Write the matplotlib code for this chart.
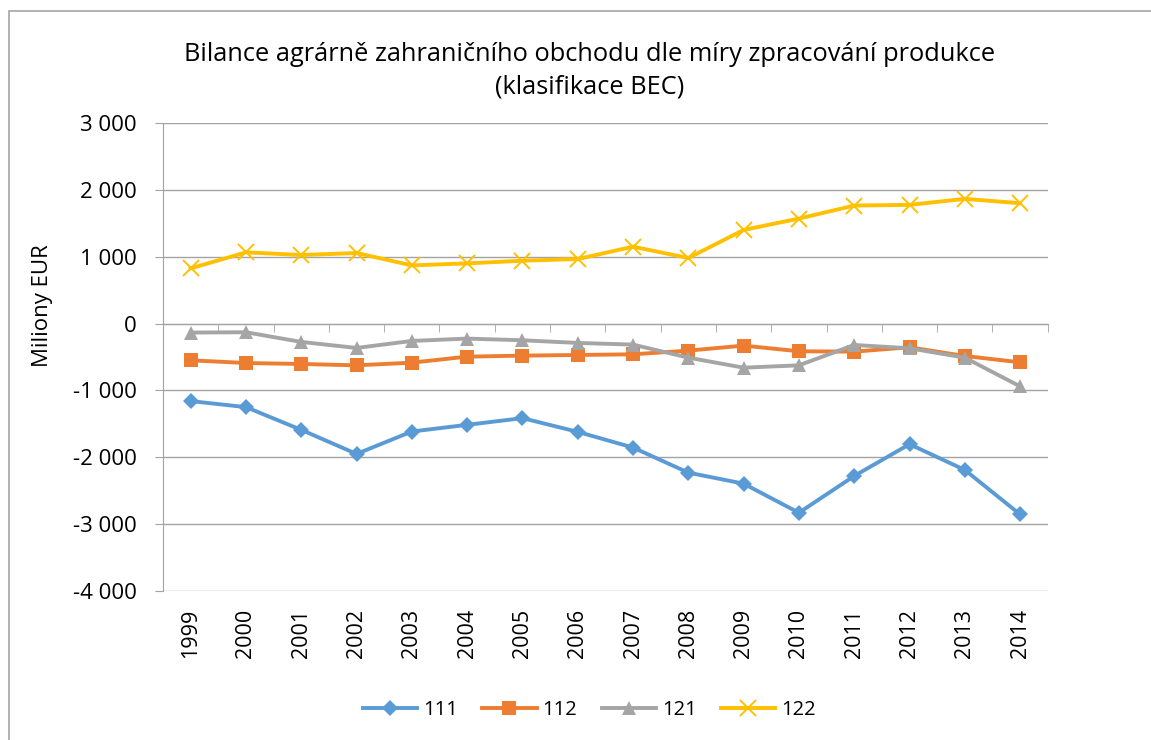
import numpy as np
import matplotlib
matplotlib.use("Agg")
import matplotlib.pyplot as plt
from matplotlib.patches import Rectangle
from matplotlib.ticker import FuncFormatter, FixedLocator

years = [str(y) for y in range(1999, 2015)]
s111 = [-1160, -1250, -1590, -1950, -1615, -1515, -1415, -1620,
        -1855, -2230, -2395, -2830, -2280, -1805, -2190, -2855]
s112 = [-550, -590, -605, -625, -585, -495, -480, -470,
        -460, -405, -330, -415, -420, -355, -485, -580]
s121 = [-135, -130, -275, -365, -260, -225, -250, -290,
        -315, -510, -660, -625, -320, -370, -510, -940]
s122 = [825, 1065, 1025, 1055, 870, 900, 940, 965,
        1150, 980, 1400, 1570, 1765, 1775, 1865, 1800]

series = [
    ("111", s111, "#5B9BD5", "D", 8.5),
    ("112", s112, "#ED7D31", "s", 9.5),
    ("121", s121, "#A5A5A5", "^", 10.5),
    ("122", s122, "#FFC000", "x", 11),
]

plt.rcParams["font.family"] = ["Open Sans", "DejaVu Sans"]
GRID = "#A3A3A3"

fig = plt.figure(figsize=(11.51, 7.40), dpi=100)
ax = fig.add_axes([0.1416, 0.2014, 0.9103 - 0.1416, 0.8338 - 0.2014])

x = np.arange(len(years))
for name, vals, col, mk, ms in series:
    ax.plot(x, vals, color=col, lw=2.8, marker=mk, ms=ms, mew=1.4 if mk == "x" else 0,
            mec=col, mfc=col, label=name, zorder=3)

ax.set_xlim(-0.5, len(years) - 0.5)
ax.set_ylim(-4000, 3000)
ax.yaxis.set_major_locator(FixedLocator(np.arange(-4000, 3001, 1000)))
ax.yaxis.set_major_formatter(FuncFormatter(lambda v, p: f"{v:,.0f}".replace(",", " ")))
ax.grid(axis="y", color=GRID, lw=1.0, zorder=0)
ax.tick_params(axis="y", labelsize=16, length=6, color=GRID, pad=13)
for sp in ("top", "right"):
    ax.spines[sp].set_visible(False)
ax.spines["left"].set_color(GRID)
ax.spines["bottom"].set_color(GRID)
ax.spines["bottom"].set_position(("data", 0))

# category axis at zero: boundary ticks only
ax.set_xticks(x)
ax.set_xticklabels([])
ax.tick_params(axis="x", which="major", length=0)
ax.set_xticks(np.arange(-0.5, len(years)), minor=True)
ax.tick_params(axis="x", which="minor", length=6, color=GRID, direction="out")

sec = ax.secondary_xaxis(0.0)
sec.set_xticks(x)
sec.set_xticklabels(years, rotation=90, fontsize=15.5)
sec.tick_params(length=0, pad=13)
sec.spines["bottom"].set_visible(False)

ax.set_ylabel("Miliony EUR", fontsize=16)
ax.yaxis.set_label_coords(-0.1243, 0.609)

fig.text(0.512, 0.9047, "Bilance agrárně zahraničního obchodu dle míry zpracování produkce\n(klasifikace BEC)",
         ha="center", va="center", fontsize=18.3, linespacing=1.38)

fig.legend(loc="center", bbox_to_anchor=(0.512, 0.0405), ncol=4, frameon=False,
           fontsize=14.5, handlelength=2.7, columnspacing=1.2, handletextpad=0.3)

fig.patches.append(Rectangle((9 / 1151, -0.1), 1.2, 1.1 - 11 / 740,
                             transform=fig.transFigure, fill=False,
                             edgecolor="#A6A6A6", lw=1.2))

fig.savefig("out.png", dpi=100)
